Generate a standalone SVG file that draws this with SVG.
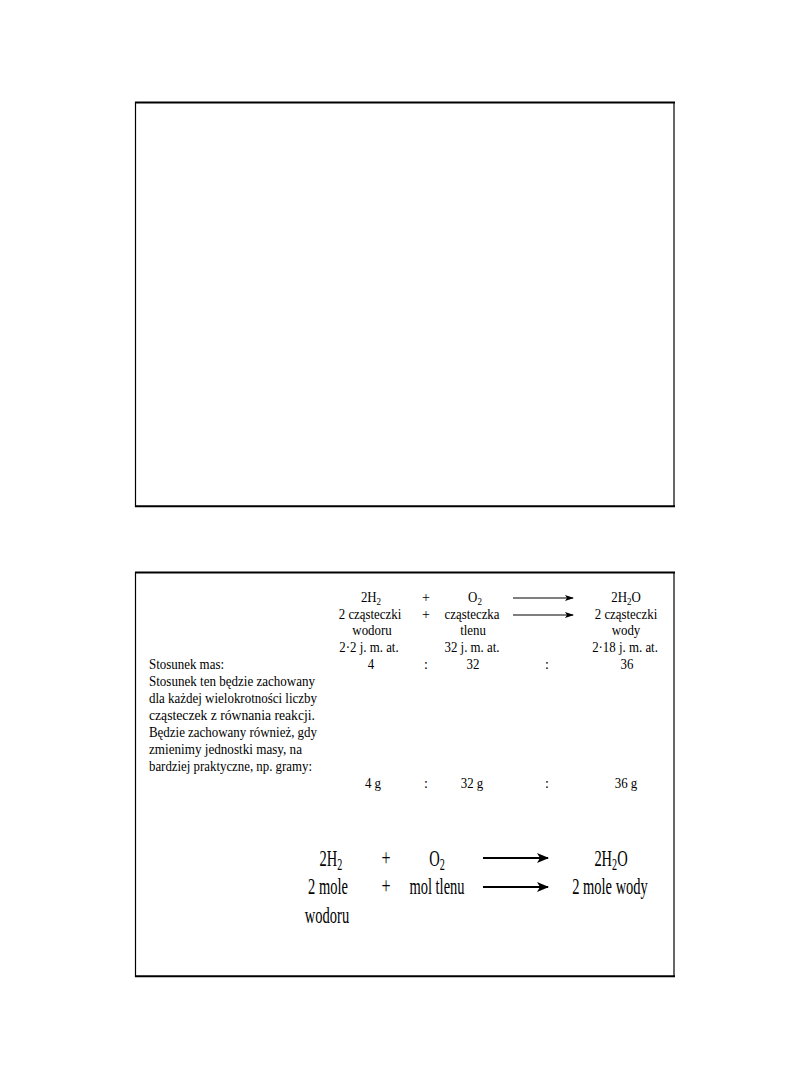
<svg xmlns="http://www.w3.org/2000/svg" width="810" height="1080" viewBox="0 0 810 1080">
<style>
.frame{stroke:#000;fill:none}
.s{font-family:"Liberation Serif","Times New Roman",serif;font-size:14px;fill:#000}
.m{text-anchor:middle}
.b{font-family:"Liberation Serif","Times New Roman",serif;font-size:23px;fill:#000;text-anchor:middle}
.sub{font-size:70%}
.a1{stroke:#000;stroke-width:1.2;fill:none}
.a2{stroke:#000;stroke-width:2.2;fill:none}
</style>
<defs>
<marker id="hs" markerWidth="9" markerHeight="6" refX="8" refY="3" orient="auto" markerUnits="userSpaceOnUse">
<path d="M0,0 L9,3 L0,6 L2,3 Z" fill="#000"/>
</marker>
<marker id="hb" markerWidth="12" markerHeight="10" refX="11" refY="5" orient="auto" markerUnits="userSpaceOnUse">
<path d="M0,0 L12,5 L0,10 L3,5 Z" fill="#000"/>
</marker>
</defs>
<rect width="810" height="1080" fill="#fff"/>

<g id="box-top">
<line class="frame" x1="135" y1="102.5" x2="675" y2="102.5" stroke-width="2"/>
<line class="frame" x1="135.5" y1="102" x2="135.5" y2="507" stroke-width="1.2"/>
<line class="frame" x1="674" y1="102" x2="674" y2="507" stroke-width="1.2"/>
<line class="frame" x1="135" y1="506.3" x2="675" y2="506.3" stroke-width="2"/>
</g>

<g id="box-bottom">
<line class="frame" x1="135" y1="572.5" x2="675" y2="572.5" stroke-width="2"/>
<line class="frame" x1="135.5" y1="572" x2="135.5" y2="977" stroke-width="1.2"/>
<line class="frame" x1="674" y1="572" x2="674" y2="977" stroke-width="1.2"/>
<line class="frame" x1="135" y1="976.3" x2="675" y2="976.3" stroke-width="2"/>
</g>

<g id="connectors">
<line class="a1" x1="513" y1="598" x2="573" y2="598" marker-end="url(#hs)"/>
<line class="a1" x1="513" y1="615" x2="573" y2="615" marker-end="url(#hs)"/>
<line class="a2" x1="483" y1="858" x2="548" y2="858" marker-end="url(#hb)"/>
<line class="a2" x1="483" y1="887" x2="548" y2="887" marker-end="url(#hb)"/>
</g>

<g id="h2-column">
<text class="s m" transform="translate(371 602) scale(0.92 1)">2H<tspan class="sub" dy="3">2</tspan></text>
<text class="s m" transform="translate(370 619) scale(0.92 1)">2 cząsteczki</text>
<text class="s m" transform="translate(372 635) scale(0.92 1)">wodoru</text>
<text class="s m" transform="translate(369 652) scale(0.92 1)">2·2 j. m. at.</text>
<text class="s m" transform="translate(371 669) scale(0.92 1)">4</text>
<text class="s m" transform="translate(373 788) scale(0.92 1)">4 g</text>
</g>

<g id="plus-column">
<text class="s m" transform="translate(426 602)">+</text>
<text class="s m" transform="translate(426 619)">+</text>
<text class="s m" transform="translate(426 669)">:</text>
<text class="s m" transform="translate(426 788)">:</text>
</g>

<g id="o2-column">
<text class="s m" transform="translate(475 602) scale(0.92 1)">O<tspan class="sub" dy="3">2</tspan></text>
<text class="s m" transform="translate(472 619) scale(0.92 1)">cząsteczka</text>
<text class="s m" transform="translate(473 635) scale(0.92 1)">tlenu</text>
<text class="s m" transform="translate(472 652) scale(0.92 1)">32 j. m. at.</text>
<text class="s m" transform="translate(473 669) scale(0.92 1)">32</text>
<text class="s m" transform="translate(472 788) scale(0.92 1)">32 g</text>
</g>

<g id="colon-column">
<text class="s m" transform="translate(547 669)">:</text>
<text class="s m" transform="translate(547 788)">:</text>
</g>

<g id="h2o-column">
<text class="s m" transform="translate(626 602) scale(0.92 1)">2H<tspan class="sub" dy="3">2</tspan><tspan dy="-3">O</tspan></text>
<text class="s m" transform="translate(626 619) scale(0.92 1)">2 cząsteczki</text>
<text class="s m" transform="translate(626 635) scale(0.92 1)">wody</text>
<text class="s m" transform="translate(625 652) scale(0.92 1)">2·18 j. m. at.</text>
<text class="s m" transform="translate(627 669) scale(0.92 1)">36</text>
<text class="s m" transform="translate(626 788) scale(0.92 1)">36 g</text>
</g>

<g id="description">
<text class="s" x="149" y="669" textLength="75" lengthAdjust="spacingAndGlyphs">Stosunek mas:</text>
<text class="s" x="149" y="686" textLength="166" lengthAdjust="spacingAndGlyphs">Stosunek ten będzie zachowany</text>
<text class="s" x="149" y="703" textLength="168" lengthAdjust="spacingAndGlyphs">dla każdej wielokrotności liczby</text>
<text class="s" x="149" y="720" textLength="166" lengthAdjust="spacingAndGlyphs">cząsteczek z równania reakcji.</text>
<text class="s" x="149" y="737" textLength="168" lengthAdjust="spacingAndGlyphs">Będzie zachowany również, gdy</text>
<text class="s" x="149" y="754" textLength="153" lengthAdjust="spacingAndGlyphs">zmienimy jednostki masy, na</text>
<text class="s" x="149" y="771" textLength="163" lengthAdjust="spacingAndGlyphs">bardziej praktyczne, np. gramy:</text>
</g>

<g id="mole-h2">
<text class="b" transform="translate(331 866) scale(0.63 1)">2H<tspan class="sub" dy="4">2</tspan></text>
<text class="b" transform="translate(328 894) scale(0.63 1)">2 mole</text>
<text class="b" transform="translate(327 923) scale(0.63 1)">wodoru</text>
</g>
<g id="mole-plus">
<text class="b" transform="translate(386 865) scale(0.7 1)">+</text>
<text class="b" transform="translate(386 893) scale(0.7 1)">+</text>
</g>
<g id="mole-o2">
<text class="b" transform="translate(437 866) scale(0.63 1)">O<tspan class="sub" dy="4">2</tspan></text>
<text class="b" transform="translate(437 894) scale(0.63 1)">mol tlenu</text>
</g>
<g id="mole-h2o">
<text class="b" transform="translate(611 866) scale(0.63 1)">2H<tspan class="sub" dy="4">2</tspan><tspan dy="-4">O</tspan></text>
<text class="b" transform="translate(610 894) scale(0.63 1)">2 mole wody</text>
</g>
</svg>
